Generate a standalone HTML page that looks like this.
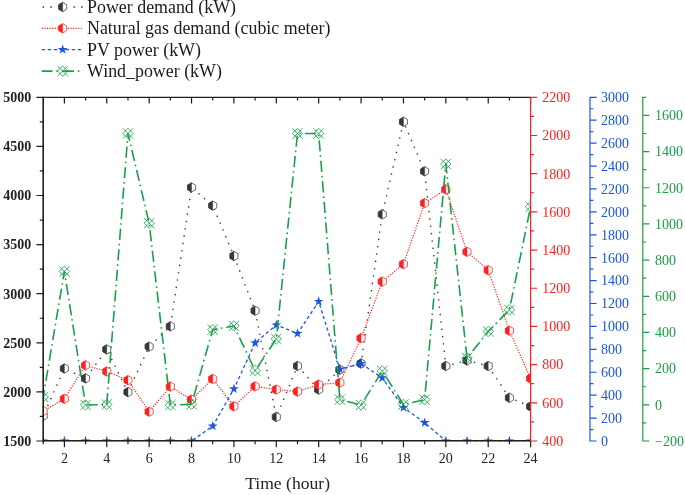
<!DOCTYPE html>
<html><head><meta charset="utf-8"><title>Demand and generation profiles</title>
<style>html,body{margin:0;padding:0;background:#fff}svg{display:block}text{font-family:"Liberation Serif",serif}svg{will-change:transform}</style></head><body>
<svg width="685" height="495" viewBox="0 0 685 495">
<defs><clipPath id="pc"><rect x="42.9" y="97.3" width="488.0" height="344.0"/></clipPath></defs>
<g clip-path="url(#pc)">
<path d="M43.20,416.00 L64.39,368.50 L85.58,378.40 L106.77,349.40 L127.97,392.10 L149.16,346.60 L170.35,326.30 L191.54,187.40 L212.73,205.60 L233.92,256.00 L255.11,310.70 L276.30,417.00 L297.50,366.00 L318.69,389.60 L339.88,369.70 L361.07,363.50 L382.26,214.30 L403.45,121.80 L424.64,171.30 L445.83,366.00 L467.03,360.50 L488.22,366.00 L509.41,397.80 L530.60,406.50" fill="none" stroke="#383838" stroke-width="1.4" stroke-dasharray="1.4 6.0" stroke-dashoffset="-3.434952451150245" stroke-linejoin="round"/>
<path d="M43.20,411.35 L47.23,413.68 L47.23,418.32 L43.20,420.65 L39.17,418.32 L39.17,413.68Z" fill="#fff" stroke="#383838" stroke-width="0.75"/><path d="M43.20,411.35 L43.20,420.65 L39.17,418.32 L39.17,413.68 Z" fill="#383838" stroke="#383838" stroke-width="0.4"/><path d="M64.39,363.85 L68.42,366.18 L68.42,370.82 L64.39,373.15 L60.36,370.82 L60.36,366.18Z" fill="#fff" stroke="#383838" stroke-width="0.75"/><path d="M64.39,363.85 L64.39,373.15 L60.36,370.82 L60.36,366.18 Z" fill="#383838" stroke="#383838" stroke-width="0.4"/><path d="M85.58,373.75 L89.61,376.07 L89.61,380.72 L85.58,383.05 L81.56,380.72 L81.56,376.07Z" fill="#fff" stroke="#383838" stroke-width="0.75"/><path d="M85.58,373.75 L85.58,383.05 L81.56,380.72 L81.56,376.07 Z" fill="#383838" stroke="#383838" stroke-width="0.4"/><path d="M106.77,344.75 L110.80,347.07 L110.80,351.72 L106.77,354.05 L102.75,351.72 L102.75,347.07Z" fill="#fff" stroke="#383838" stroke-width="0.75"/><path d="M106.77,344.75 L106.77,354.05 L102.75,351.72 L102.75,347.07 Z" fill="#383838" stroke="#383838" stroke-width="0.4"/><path d="M127.97,387.45 L131.99,389.78 L131.99,394.43 L127.97,396.75 L123.94,394.43 L123.94,389.78Z" fill="#fff" stroke="#383838" stroke-width="0.75"/><path d="M127.97,387.45 L127.97,396.75 L123.94,394.43 L123.94,389.78 Z" fill="#383838" stroke="#383838" stroke-width="0.4"/><path d="M149.16,341.95 L153.18,344.28 L153.18,348.93 L149.16,351.25 L145.13,348.93 L145.13,344.28Z" fill="#fff" stroke="#383838" stroke-width="0.75"/><path d="M149.16,341.95 L149.16,351.25 L145.13,348.93 L145.13,344.28 Z" fill="#383838" stroke="#383838" stroke-width="0.4"/><path d="M170.35,321.65 L174.37,323.98 L174.37,328.62 L170.35,330.95 L166.32,328.62 L166.32,323.98Z" fill="#fff" stroke="#383838" stroke-width="0.75"/><path d="M170.35,321.65 L170.35,330.95 L166.32,328.62 L166.32,323.98 Z" fill="#383838" stroke="#383838" stroke-width="0.4"/><path d="M191.54,182.75 L195.57,185.08 L195.57,189.72 L191.54,192.05 L187.51,189.72 L187.51,185.08Z" fill="#fff" stroke="#383838" stroke-width="0.75"/><path d="M191.54,182.75 L191.54,192.05 L187.51,189.72 L187.51,185.08 Z" fill="#383838" stroke="#383838" stroke-width="0.4"/><path d="M212.73,200.95 L216.76,203.28 L216.76,207.92 L212.73,210.25 L208.70,207.92 L208.70,203.28Z" fill="#fff" stroke="#383838" stroke-width="0.75"/><path d="M212.73,200.95 L212.73,210.25 L208.70,207.92 L208.70,203.28 Z" fill="#383838" stroke="#383838" stroke-width="0.4"/><path d="M233.92,251.35 L237.95,253.68 L237.95,258.32 L233.92,260.65 L229.89,258.32 L229.89,253.68Z" fill="#fff" stroke="#383838" stroke-width="0.75"/><path d="M233.92,251.35 L233.92,260.65 L229.89,258.32 L229.89,253.68 Z" fill="#383838" stroke="#383838" stroke-width="0.4"/><path d="M255.11,306.05 L259.14,308.38 L259.14,313.02 L255.11,315.35 L251.09,313.02 L251.09,308.38Z" fill="#fff" stroke="#383838" stroke-width="0.75"/><path d="M255.11,306.05 L255.11,315.35 L251.09,313.02 L251.09,308.38 Z" fill="#383838" stroke="#383838" stroke-width="0.4"/><path d="M276.30,412.35 L280.33,414.68 L280.33,419.32 L276.30,421.65 L272.28,419.32 L272.28,414.68Z" fill="#fff" stroke="#383838" stroke-width="0.75"/><path d="M276.30,412.35 L276.30,421.65 L272.28,419.32 L272.28,414.68 Z" fill="#383838" stroke="#383838" stroke-width="0.4"/><path d="M297.50,361.35 L301.52,363.68 L301.52,368.32 L297.50,370.65 L293.47,368.32 L293.47,363.68Z" fill="#fff" stroke="#383838" stroke-width="0.75"/><path d="M297.50,361.35 L297.50,370.65 L293.47,368.32 L293.47,363.68 Z" fill="#383838" stroke="#383838" stroke-width="0.4"/><path d="M318.69,384.95 L322.71,387.28 L322.71,391.93 L318.69,394.25 L314.66,391.93 L314.66,387.28Z" fill="#fff" stroke="#383838" stroke-width="0.75"/><path d="M318.69,384.95 L318.69,394.25 L314.66,391.93 L314.66,387.28 Z" fill="#383838" stroke="#383838" stroke-width="0.4"/><path d="M339.88,365.05 L343.91,367.38 L343.91,372.02 L339.88,374.35 L335.85,372.02 L335.85,367.38Z" fill="#fff" stroke="#383838" stroke-width="0.75"/><path d="M339.88,365.05 L339.88,374.35 L335.85,372.02 L335.85,367.38 Z" fill="#383838" stroke="#383838" stroke-width="0.4"/><path d="M361.07,358.85 L365.10,361.18 L365.10,365.82 L361.07,368.15 L357.04,365.82 L357.04,361.18Z" fill="#fff" stroke="#383838" stroke-width="0.75"/><path d="M361.07,358.85 L361.07,368.15 L357.04,365.82 L357.04,361.18 Z" fill="#383838" stroke="#383838" stroke-width="0.4"/><path d="M382.26,209.65 L386.29,211.98 L386.29,216.62 L382.26,218.95 L378.23,216.62 L378.23,211.98Z" fill="#fff" stroke="#383838" stroke-width="0.75"/><path d="M382.26,209.65 L382.26,218.95 L378.23,216.62 L378.23,211.98 Z" fill="#383838" stroke="#383838" stroke-width="0.4"/><path d="M403.45,117.15 L407.48,119.47 L407.48,124.12 L403.45,126.45 L399.43,124.12 L399.43,119.47Z" fill="#fff" stroke="#383838" stroke-width="0.75"/><path d="M403.45,117.15 L403.45,126.45 L399.43,124.12 L399.43,119.47 Z" fill="#383838" stroke="#383838" stroke-width="0.4"/><path d="M424.64,166.65 L428.67,168.98 L428.67,173.62 L424.64,175.95 L420.62,173.62 L420.62,168.98Z" fill="#fff" stroke="#383838" stroke-width="0.75"/><path d="M424.64,166.65 L424.64,175.95 L420.62,173.62 L420.62,168.98 Z" fill="#383838" stroke="#383838" stroke-width="0.4"/><path d="M445.83,361.35 L449.86,363.68 L449.86,368.32 L445.83,370.65 L441.81,368.32 L441.81,363.68Z" fill="#fff" stroke="#383838" stroke-width="0.75"/><path d="M445.83,361.35 L445.83,370.65 L441.81,368.32 L441.81,363.68 Z" fill="#383838" stroke="#383838" stroke-width="0.4"/><path d="M467.03,355.85 L471.05,358.18 L471.05,362.82 L467.03,365.15 L463.00,362.82 L463.00,358.18Z" fill="#fff" stroke="#383838" stroke-width="0.75"/><path d="M467.03,355.85 L467.03,365.15 L463.00,362.82 L463.00,358.18 Z" fill="#383838" stroke="#383838" stroke-width="0.4"/><path d="M488.22,361.35 L492.24,363.68 L492.24,368.32 L488.22,370.65 L484.19,368.32 L484.19,363.68Z" fill="#fff" stroke="#383838" stroke-width="0.75"/><path d="M488.22,361.35 L488.22,370.65 L484.19,368.32 L484.19,363.68 Z" fill="#383838" stroke="#383838" stroke-width="0.4"/><path d="M509.41,393.15 L513.44,395.48 L513.44,400.12 L509.41,402.45 L505.38,400.12 L505.38,395.48Z" fill="#fff" stroke="#383838" stroke-width="0.75"/><path d="M509.41,393.15 L509.41,402.45 L505.38,400.12 L505.38,395.48 Z" fill="#383838" stroke="#383838" stroke-width="0.4"/><path d="M530.60,401.85 L534.63,404.18 L534.63,408.82 L530.60,411.15 L526.57,408.82 L526.57,404.18Z" fill="#fff" stroke="#383838" stroke-width="0.75"/><path d="M530.60,401.85 L530.60,411.15 L526.57,408.82 L526.57,404.18 Z" fill="#383838" stroke="#383838" stroke-width="0.4"/>
<path d="M43.20,411.00 L64.39,398.80 L85.58,365.30 L106.77,371.50 L127.97,380.20 L149.16,411.70 L170.35,386.60 L191.54,399.60 L212.73,378.90 L233.92,406.30 L255.11,386.40 L276.30,389.60 L297.50,391.60 L318.69,384.60 L339.88,382.70 L361.07,338.20 L382.26,281.60 L403.45,264.20 L424.64,203.10 L445.83,189.40 L467.03,251.80 L488.22,270.20 L509.41,330.70 L530.60,378.40" fill="none" stroke="#ff2020" stroke-width="1.2" stroke-dasharray="1.2 1.4" stroke-dashoffset="0" stroke-linejoin="round"/>
<path d="M43.20,406.35 L47.23,408.68 L47.23,413.32 L43.20,415.65 L39.17,413.32 L39.17,408.68Z" fill="#fff" stroke="#ff2020" stroke-width="0.75"/><path d="M43.20,406.35 L43.20,415.65 L39.17,413.32 L39.17,408.68 Z" fill="#ff2020" stroke="#ff2020" stroke-width="0.4"/><path d="M64.39,394.15 L68.42,396.48 L68.42,401.12 L64.39,403.45 L60.36,401.12 L60.36,396.48Z" fill="#fff" stroke="#ff2020" stroke-width="0.75"/><path d="M64.39,394.15 L64.39,403.45 L60.36,401.12 L60.36,396.48 Z" fill="#ff2020" stroke="#ff2020" stroke-width="0.4"/><path d="M85.58,360.65 L89.61,362.98 L89.61,367.62 L85.58,369.95 L81.56,367.62 L81.56,362.98Z" fill="#fff" stroke="#ff2020" stroke-width="0.75"/><path d="M85.58,360.65 L85.58,369.95 L81.56,367.62 L81.56,362.98 Z" fill="#ff2020" stroke="#ff2020" stroke-width="0.4"/><path d="M106.77,366.85 L110.80,369.18 L110.80,373.82 L106.77,376.15 L102.75,373.82 L102.75,369.18Z" fill="#fff" stroke="#ff2020" stroke-width="0.75"/><path d="M106.77,366.85 L106.77,376.15 L102.75,373.82 L102.75,369.18 Z" fill="#ff2020" stroke="#ff2020" stroke-width="0.4"/><path d="M127.97,375.55 L131.99,377.88 L131.99,382.52 L127.97,384.85 L123.94,382.52 L123.94,377.88Z" fill="#fff" stroke="#ff2020" stroke-width="0.75"/><path d="M127.97,375.55 L127.97,384.85 L123.94,382.52 L123.94,377.88 Z" fill="#ff2020" stroke="#ff2020" stroke-width="0.4"/><path d="M149.16,407.05 L153.18,409.38 L153.18,414.02 L149.16,416.35 L145.13,414.02 L145.13,409.38Z" fill="#fff" stroke="#ff2020" stroke-width="0.75"/><path d="M149.16,407.05 L149.16,416.35 L145.13,414.02 L145.13,409.38 Z" fill="#ff2020" stroke="#ff2020" stroke-width="0.4"/><path d="M170.35,381.95 L174.37,384.28 L174.37,388.93 L170.35,391.25 L166.32,388.93 L166.32,384.28Z" fill="#fff" stroke="#ff2020" stroke-width="0.75"/><path d="M170.35,381.95 L170.35,391.25 L166.32,388.93 L166.32,384.28 Z" fill="#ff2020" stroke="#ff2020" stroke-width="0.4"/><path d="M191.54,394.95 L195.57,397.28 L195.57,401.93 L191.54,404.25 L187.51,401.93 L187.51,397.28Z" fill="#fff" stroke="#ff2020" stroke-width="0.75"/><path d="M191.54,394.95 L191.54,404.25 L187.51,401.93 L187.51,397.28 Z" fill="#ff2020" stroke="#ff2020" stroke-width="0.4"/><path d="M212.73,374.25 L216.76,376.57 L216.76,381.22 L212.73,383.55 L208.70,381.22 L208.70,376.57Z" fill="#fff" stroke="#ff2020" stroke-width="0.75"/><path d="M212.73,374.25 L212.73,383.55 L208.70,381.22 L208.70,376.57 Z" fill="#ff2020" stroke="#ff2020" stroke-width="0.4"/><path d="M233.92,401.65 L237.95,403.98 L237.95,408.62 L233.92,410.95 L229.89,408.62 L229.89,403.98Z" fill="#fff" stroke="#ff2020" stroke-width="0.75"/><path d="M233.92,401.65 L233.92,410.95 L229.89,408.62 L229.89,403.98 Z" fill="#ff2020" stroke="#ff2020" stroke-width="0.4"/><path d="M255.11,381.75 L259.14,384.07 L259.14,388.72 L255.11,391.05 L251.09,388.72 L251.09,384.07Z" fill="#fff" stroke="#ff2020" stroke-width="0.75"/><path d="M255.11,381.75 L255.11,391.05 L251.09,388.72 L251.09,384.07 Z" fill="#ff2020" stroke="#ff2020" stroke-width="0.4"/><path d="M276.30,384.95 L280.33,387.28 L280.33,391.93 L276.30,394.25 L272.28,391.93 L272.28,387.28Z" fill="#fff" stroke="#ff2020" stroke-width="0.75"/><path d="M276.30,384.95 L276.30,394.25 L272.28,391.93 L272.28,387.28 Z" fill="#ff2020" stroke="#ff2020" stroke-width="0.4"/><path d="M297.50,386.95 L301.52,389.28 L301.52,393.93 L297.50,396.25 L293.47,393.93 L293.47,389.28Z" fill="#fff" stroke="#ff2020" stroke-width="0.75"/><path d="M297.50,386.95 L297.50,396.25 L293.47,393.93 L293.47,389.28 Z" fill="#ff2020" stroke="#ff2020" stroke-width="0.4"/><path d="M318.69,379.95 L322.71,382.28 L322.71,386.93 L318.69,389.25 L314.66,386.93 L314.66,382.28Z" fill="#fff" stroke="#ff2020" stroke-width="0.75"/><path d="M318.69,379.95 L318.69,389.25 L314.66,386.93 L314.66,382.28 Z" fill="#ff2020" stroke="#ff2020" stroke-width="0.4"/><path d="M339.88,378.05 L343.91,380.38 L343.91,385.02 L339.88,387.35 L335.85,385.02 L335.85,380.38Z" fill="#fff" stroke="#ff2020" stroke-width="0.75"/><path d="M339.88,378.05 L339.88,387.35 L335.85,385.02 L335.85,380.38 Z" fill="#ff2020" stroke="#ff2020" stroke-width="0.4"/><path d="M361.07,333.55 L365.10,335.88 L365.10,340.52 L361.07,342.85 L357.04,340.52 L357.04,335.88Z" fill="#fff" stroke="#ff2020" stroke-width="0.75"/><path d="M361.07,333.55 L361.07,342.85 L357.04,340.52 L357.04,335.88 Z" fill="#ff2020" stroke="#ff2020" stroke-width="0.4"/><path d="M382.26,276.95 L386.29,279.28 L386.29,283.93 L382.26,286.25 L378.23,283.93 L378.23,279.28Z" fill="#fff" stroke="#ff2020" stroke-width="0.75"/><path d="M382.26,276.95 L382.26,286.25 L378.23,283.93 L378.23,279.28 Z" fill="#ff2020" stroke="#ff2020" stroke-width="0.4"/><path d="M403.45,259.55 L407.48,261.88 L407.48,266.52 L403.45,268.85 L399.43,266.52 L399.43,261.88Z" fill="#fff" stroke="#ff2020" stroke-width="0.75"/><path d="M403.45,259.55 L403.45,268.85 L399.43,266.52 L399.43,261.88 Z" fill="#ff2020" stroke="#ff2020" stroke-width="0.4"/><path d="M424.64,198.45 L428.67,200.78 L428.67,205.42 L424.64,207.75 L420.62,205.42 L420.62,200.78Z" fill="#fff" stroke="#ff2020" stroke-width="0.75"/><path d="M424.64,198.45 L424.64,207.75 L420.62,205.42 L420.62,200.78 Z" fill="#ff2020" stroke="#ff2020" stroke-width="0.4"/><path d="M445.83,184.75 L449.86,187.08 L449.86,191.72 L445.83,194.05 L441.81,191.72 L441.81,187.08Z" fill="#fff" stroke="#ff2020" stroke-width="0.75"/><path d="M445.83,184.75 L445.83,194.05 L441.81,191.72 L441.81,187.08 Z" fill="#ff2020" stroke="#ff2020" stroke-width="0.4"/><path d="M467.03,247.15 L471.05,249.48 L471.05,254.12 L467.03,256.45 L463.00,254.12 L463.00,249.48Z" fill="#fff" stroke="#ff2020" stroke-width="0.75"/><path d="M467.03,247.15 L467.03,256.45 L463.00,254.12 L463.00,249.48 Z" fill="#ff2020" stroke="#ff2020" stroke-width="0.4"/><path d="M488.22,265.55 L492.24,267.88 L492.24,272.52 L488.22,274.85 L484.19,272.52 L484.19,267.88Z" fill="#fff" stroke="#ff2020" stroke-width="0.75"/><path d="M488.22,265.55 L488.22,274.85 L484.19,272.52 L484.19,267.88 Z" fill="#ff2020" stroke="#ff2020" stroke-width="0.4"/><path d="M509.41,326.05 L513.44,328.38 L513.44,333.02 L509.41,335.35 L505.38,333.02 L505.38,328.38Z" fill="#fff" stroke="#ff2020" stroke-width="0.75"/><path d="M509.41,326.05 L509.41,335.35 L505.38,333.02 L505.38,328.38 Z" fill="#ff2020" stroke="#ff2020" stroke-width="0.4"/><path d="M530.60,373.75 L534.63,376.07 L534.63,380.72 L530.60,383.05 L526.57,380.72 L526.57,376.07Z" fill="#fff" stroke="#ff2020" stroke-width="0.75"/><path d="M530.60,373.75 L530.60,383.05 L526.57,380.72 L526.57,376.07 Z" fill="#ff2020" stroke="#ff2020" stroke-width="0.4"/>
<path d="M43.20,441.00 L64.39,441.00 L85.58,441.00 L106.77,441.00 L127.97,441.00 L149.16,441.00 L170.35,441.00 L191.54,441.00 L212.73,426.10 L233.92,388.90 L255.11,342.90 L276.30,325.00 L297.50,333.60 L318.69,301.50 L339.88,369.20 L361.07,363.50 L382.26,377.90 L403.45,407.50 L424.64,422.70 L445.83,441.00 L467.03,441.00 L488.22,441.00 L509.41,441.00 L530.60,441.00" fill="none" stroke="#1a55e3" stroke-width="1.3" stroke-dasharray="3.3 2.7" stroke-dashoffset="0" stroke-linejoin="round"/>
<path d="M43.20,435.80 L44.38,439.38 L48.15,439.39 L45.10,441.62 L46.26,445.21 L43.20,443.00 L40.14,445.21 L41.30,441.62 L38.25,439.39 L42.02,439.38Z" fill="#1a55e3"/><path d="M64.39,435.80 L65.57,439.38 L69.34,439.39 L66.29,441.62 L67.45,445.21 L64.39,443.00 L61.33,445.21 L62.49,441.62 L59.45,439.39 L63.22,439.38Z" fill="#1a55e3"/><path d="M85.58,435.80 L86.76,439.38 L90.53,439.39 L87.48,441.62 L88.64,445.21 L85.58,443.00 L82.53,445.21 L83.68,441.62 L80.64,439.39 L84.41,439.38Z" fill="#1a55e3"/><path d="M106.77,435.80 L107.95,439.38 L111.72,439.39 L108.68,441.62 L109.83,445.21 L106.77,443.00 L103.72,445.21 L104.87,441.62 L101.83,439.39 L105.60,439.38Z" fill="#1a55e3"/><path d="M127.97,435.80 L129.14,439.38 L132.91,439.39 L129.87,441.62 L131.02,445.21 L127.97,443.00 L124.91,445.21 L126.06,441.62 L123.02,439.39 L126.79,439.38Z" fill="#1a55e3"/><path d="M149.16,435.80 L150.33,439.38 L154.10,439.39 L151.06,441.62 L152.21,445.21 L149.16,443.00 L146.10,445.21 L147.25,441.62 L144.21,439.39 L147.98,439.38Z" fill="#1a55e3"/><path d="M170.35,435.80 L171.52,439.38 L175.29,439.39 L172.25,441.62 L173.40,445.21 L170.35,443.00 L167.29,445.21 L168.45,441.62 L165.40,439.39 L169.17,439.38Z" fill="#1a55e3"/><path d="M191.54,435.80 L192.71,439.38 L196.48,439.39 L193.44,441.62 L194.60,445.21 L191.54,443.00 L188.48,445.21 L189.64,441.62 L186.59,439.39 L190.36,439.38Z" fill="#1a55e3"/><path d="M212.73,420.90 L213.91,424.48 L217.68,424.49 L214.63,426.72 L215.79,430.31 L212.73,428.10 L209.67,430.31 L210.83,426.72 L207.78,424.49 L211.55,424.48Z" fill="#1a55e3"/><path d="M233.92,383.70 L235.10,387.28 L238.87,387.29 L235.82,389.52 L236.98,393.11 L233.92,390.90 L230.87,393.11 L232.02,389.52 L228.98,387.29 L232.75,387.28Z" fill="#1a55e3"/><path d="M255.11,337.70 L256.29,341.28 L260.06,341.29 L257.02,343.52 L258.17,347.11 L255.11,344.90 L252.06,347.11 L253.21,343.52 L250.17,341.29 L253.94,341.28Z" fill="#1a55e3"/><path d="M276.30,319.80 L277.48,323.38 L281.25,323.39 L278.21,325.62 L279.36,329.21 L276.30,327.00 L273.25,329.21 L274.40,325.62 L271.36,323.39 L275.13,323.38Z" fill="#1a55e3"/><path d="M297.50,328.40 L298.67,331.98 L302.44,331.99 L299.40,334.22 L300.55,337.81 L297.50,335.60 L294.44,337.81 L295.59,334.22 L292.55,331.99 L296.32,331.98Z" fill="#1a55e3"/><path d="M318.69,296.30 L319.86,299.88 L323.63,299.89 L320.59,302.12 L321.74,305.71 L318.69,303.50 L315.63,305.71 L316.78,302.12 L313.74,299.89 L317.51,299.88Z" fill="#1a55e3"/><path d="M339.88,364.00 L341.05,367.58 L344.82,367.59 L341.78,369.82 L342.93,373.41 L339.88,371.20 L336.82,373.41 L337.98,369.82 L334.93,367.59 L338.70,367.58Z" fill="#1a55e3"/><path d="M361.07,358.30 L362.25,361.88 L366.02,361.89 L362.97,364.12 L364.13,367.71 L361.07,365.50 L358.01,367.71 L359.17,364.12 L356.12,361.89 L359.89,361.88Z" fill="#1a55e3"/><path d="M382.26,372.70 L383.44,376.28 L387.21,376.29 L384.16,378.52 L385.32,382.11 L382.26,379.90 L379.20,382.11 L380.36,378.52 L377.32,376.29 L381.09,376.28Z" fill="#1a55e3"/><path d="M403.45,402.30 L404.63,405.88 L408.40,405.89 L405.35,408.12 L406.51,411.71 L403.45,409.50 L400.40,411.71 L401.55,408.12 L398.51,405.89 L402.28,405.88Z" fill="#1a55e3"/><path d="M424.64,417.50 L425.82,421.08 L429.59,421.09 L426.55,423.32 L427.70,426.91 L424.64,424.70 L421.59,426.91 L422.74,423.32 L419.70,421.09 L423.47,421.08Z" fill="#1a55e3"/><path d="M445.83,435.80 L447.01,439.38 L450.78,439.39 L447.74,441.62 L448.89,445.21 L445.83,443.00 L442.78,445.21 L443.93,441.62 L440.89,439.39 L444.66,439.38Z" fill="#1a55e3"/><path d="M467.03,435.80 L468.20,439.38 L471.97,439.39 L468.93,441.62 L470.08,445.21 L467.03,443.00 L463.97,445.21 L465.12,441.62 L462.08,439.39 L465.85,439.38Z" fill="#1a55e3"/><path d="M488.22,435.80 L489.39,439.38 L493.16,439.39 L490.12,441.62 L491.27,445.21 L488.22,443.00 L485.16,445.21 L486.32,441.62 L483.27,439.39 L487.04,439.38Z" fill="#1a55e3"/><path d="M509.41,435.80 L510.58,439.38 L514.35,439.39 L511.31,441.62 L512.47,445.21 L509.41,443.00 L506.35,445.21 L507.51,441.62 L504.46,439.39 L508.23,439.38Z" fill="#1a55e3"/><path d="M530.60,435.80 L531.78,439.38 L535.55,439.39 L532.50,441.62 L533.66,445.21 L530.60,443.00 L527.54,445.21 L528.70,441.62 L525.65,439.39 L529.42,439.38Z" fill="#1a55e3"/>
<path d="M43.20,397.00 L64.39,271.40 L85.58,405.00 L106.77,404.50 L127.97,133.50 L149.16,223.20 L170.35,405.00 L191.54,404.30 L212.73,329.60 L233.92,326.00 L255.11,370.50 L276.30,339.00 L297.50,133.50 L318.69,133.50 L339.88,399.60 L361.07,405.00 L382.26,371.00 L403.45,404.50 L424.64,399.60 L445.83,164.10 L467.03,358.00 L488.22,331.50 L509.41,309.90 L530.60,206.80" fill="none" stroke="#18a048" stroke-width="1.6" stroke-dasharray="11.2 3.9 1.6 3.9" stroke-dashoffset="-16.4" stroke-linejoin="round"/>
<path d="M38.00,391.80 L48.40,402.20 M38.00,402.20 L48.40,391.80 M43.20,391.80 L48.40,397.00 L43.20,402.20 L38.00,397.00 Z" fill="none" stroke="#18a048" stroke-width="0.9" stroke-opacity="0.9"/><path d="M59.19,266.20 L69.59,276.60 M59.19,276.60 L69.59,266.20 M64.39,266.20 L69.59,271.40 L64.39,276.60 L59.19,271.40 Z" fill="none" stroke="#18a048" stroke-width="0.9" stroke-opacity="0.9"/><path d="M80.38,399.80 L90.78,410.20 M80.38,410.20 L90.78,399.80 M85.58,399.80 L90.78,405.00 L85.58,410.20 L80.38,405.00 Z" fill="none" stroke="#18a048" stroke-width="0.9" stroke-opacity="0.9"/><path d="M101.57,399.30 L111.97,409.70 M101.57,409.70 L111.97,399.30 M106.77,399.30 L111.97,404.50 L106.77,409.70 L101.57,404.50 Z" fill="none" stroke="#18a048" stroke-width="0.9" stroke-opacity="0.9"/><path d="M122.77,128.30 L133.17,138.70 M122.77,138.70 L133.17,128.30 M127.97,128.30 L133.17,133.50 L127.97,138.70 L122.77,133.50 Z" fill="none" stroke="#18a048" stroke-width="0.9" stroke-opacity="0.9"/><path d="M143.96,218.00 L154.36,228.40 M143.96,228.40 L154.36,218.00 M149.16,218.00 L154.36,223.20 L149.16,228.40 L143.96,223.20 Z" fill="none" stroke="#18a048" stroke-width="0.9" stroke-opacity="0.9"/><path d="M165.15,399.80 L175.55,410.20 M165.15,410.20 L175.55,399.80 M170.35,399.80 L175.55,405.00 L170.35,410.20 L165.15,405.00 Z" fill="none" stroke="#18a048" stroke-width="0.9" stroke-opacity="0.9"/><path d="M186.34,399.10 L196.74,409.50 M186.34,409.50 L196.74,399.10 M191.54,399.10 L196.74,404.30 L191.54,409.50 L186.34,404.30 Z" fill="none" stroke="#18a048" stroke-width="0.9" stroke-opacity="0.9"/><path d="M207.53,324.40 L217.93,334.80 M207.53,334.80 L217.93,324.40 M212.73,324.40 L217.93,329.60 L212.73,334.80 L207.53,329.60 Z" fill="none" stroke="#18a048" stroke-width="0.9" stroke-opacity="0.9"/><path d="M228.72,320.80 L239.12,331.20 M228.72,331.20 L239.12,320.80 M233.92,320.80 L239.12,326.00 L233.92,331.20 L228.72,326.00 Z" fill="none" stroke="#18a048" stroke-width="0.9" stroke-opacity="0.9"/><path d="M249.91,365.30 L260.31,375.70 M249.91,375.70 L260.31,365.30 M255.11,365.30 L260.31,370.50 L255.11,375.70 L249.91,370.50 Z" fill="none" stroke="#18a048" stroke-width="0.9" stroke-opacity="0.9"/><path d="M271.10,333.80 L281.50,344.20 M271.10,344.20 L281.50,333.80 M276.30,333.80 L281.50,339.00 L276.30,344.20 L271.10,339.00 Z" fill="none" stroke="#18a048" stroke-width="0.9" stroke-opacity="0.9"/><path d="M292.30,128.30 L302.70,138.70 M292.30,138.70 L302.70,128.30 M297.50,128.30 L302.70,133.50 L297.50,138.70 L292.30,133.50 Z" fill="none" stroke="#18a048" stroke-width="0.9" stroke-opacity="0.9"/><path d="M313.49,128.30 L323.89,138.70 M313.49,138.70 L323.89,128.30 M318.69,128.30 L323.89,133.50 L318.69,138.70 L313.49,133.50 Z" fill="none" stroke="#18a048" stroke-width="0.9" stroke-opacity="0.9"/><path d="M334.68,394.40 L345.08,404.80 M334.68,404.80 L345.08,394.40 M339.88,394.40 L345.08,399.60 L339.88,404.80 L334.68,399.60 Z" fill="none" stroke="#18a048" stroke-width="0.9" stroke-opacity="0.9"/><path d="M355.87,399.80 L366.27,410.20 M355.87,410.20 L366.27,399.80 M361.07,399.80 L366.27,405.00 L361.07,410.20 L355.87,405.00 Z" fill="none" stroke="#18a048" stroke-width="0.9" stroke-opacity="0.9"/><path d="M377.06,365.80 L387.46,376.20 M377.06,376.20 L387.46,365.80 M382.26,365.80 L387.46,371.00 L382.26,376.20 L377.06,371.00 Z" fill="none" stroke="#18a048" stroke-width="0.9" stroke-opacity="0.9"/><path d="M398.25,399.30 L408.65,409.70 M398.25,409.70 L408.65,399.30 M403.45,399.30 L408.65,404.50 L403.45,409.70 L398.25,404.50 Z" fill="none" stroke="#18a048" stroke-width="0.9" stroke-opacity="0.9"/><path d="M419.44,394.40 L429.84,404.80 M419.44,404.80 L429.84,394.40 M424.64,394.40 L429.84,399.60 L424.64,404.80 L419.44,399.60 Z" fill="none" stroke="#18a048" stroke-width="0.9" stroke-opacity="0.9"/><path d="M440.63,158.90 L451.03,169.30 M440.63,169.30 L451.03,158.90 M445.83,158.90 L451.03,164.10 L445.83,169.30 L440.63,164.10 Z" fill="none" stroke="#18a048" stroke-width="0.9" stroke-opacity="0.9"/><path d="M461.83,352.80 L472.23,363.20 M461.83,363.20 L472.23,352.80 M467.03,352.80 L472.23,358.00 L467.03,363.20 L461.83,358.00 Z" fill="none" stroke="#18a048" stroke-width="0.9" stroke-opacity="0.9"/><path d="M483.02,326.30 L493.42,336.70 M483.02,336.70 L493.42,326.30 M488.22,326.30 L493.42,331.50 L488.22,336.70 L483.02,331.50 Z" fill="none" stroke="#18a048" stroke-width="0.9" stroke-opacity="0.9"/><path d="M504.21,304.70 L514.61,315.10 M504.21,315.10 L514.61,304.70 M509.41,304.70 L514.61,309.90 L509.41,315.10 L504.21,309.90 Z" fill="none" stroke="#18a048" stroke-width="0.9" stroke-opacity="0.9"/><path d="M525.40,201.60 L535.80,212.00 M525.40,212.00 L535.80,201.60 M530.60,201.60 L535.80,206.80 L530.60,212.00 L525.40,206.80 Z" fill="none" stroke="#18a048" stroke-width="0.9" stroke-opacity="0.9"/>
</g>
<g stroke="#1f1f1f" stroke-width="1.6" fill="none">
<path d="M43.2,96.7 V441.6 M43.2,440.8 H530.6"/><path d="M43.2,97.3 H530.6" stroke-width="1.2"/>
</g>
<g stroke="#1f1f1f" stroke-width="1.2" fill="none">
<path d="M43.2,441.00 H36.4 M43.2,416.45 H39.8 M43.2,391.90 H36.4 M43.2,367.35 H39.8 M43.2,342.80 H36.4 M43.2,318.25 H39.8 M43.2,293.70 H36.4 M43.2,269.15 H39.8 M43.2,244.60 H36.4 M43.2,220.05 H39.8 M43.2,195.50 H36.4 M43.2,170.95 H39.8 M43.2,146.40 H36.4 M43.2,121.85 H39.8 M43.2,97.30 H36.4 M64.39,441.0 V447.2 M64.39,97.3 V103.5 M85.58,441.0 V444.2 M85.58,97.3 V100.5 M106.77,441.0 V447.2 M106.77,97.3 V103.5 M127.97,441.0 V444.2 M127.97,97.3 V100.5 M149.16,441.0 V447.2 M149.16,97.3 V103.5 M170.35,441.0 V444.2 M170.35,97.3 V100.5 M191.54,441.0 V447.2 M191.54,97.3 V103.5 M212.73,441.0 V444.2 M212.73,97.3 V100.5 M233.92,441.0 V447.2 M233.92,97.3 V103.5 M255.11,441.0 V444.2 M255.11,97.3 V100.5 M276.30,441.0 V447.2 M276.30,97.3 V103.5 M297.50,441.0 V444.2 M297.50,97.3 V100.5 M318.69,441.0 V447.2 M318.69,97.3 V103.5 M339.88,441.0 V444.2 M339.88,97.3 V100.5 M361.07,441.0 V447.2 M361.07,97.3 V103.5 M382.26,441.0 V444.2 M382.26,97.3 V100.5 M403.45,441.0 V447.2 M403.45,97.3 V103.5 M424.64,441.0 V444.2 M424.64,97.3 V100.5 M445.83,441.0 V447.2 M445.83,97.3 V103.5 M467.03,441.0 V444.2 M467.03,97.3 V100.5 M488.22,441.0 V447.2 M488.22,97.3 V103.5 M509.41,441.0 V444.2 M509.41,97.3 V100.5 M530.60,441.0 V447.2 M530.60,97.3 V103.5 M43.20,441.0 V444.2 "/>
</g>
<g font-size="14" font-weight="bold" fill="#222" text-anchor="end">
<text x="31.3" y="445.8">1500</text>
<text x="31.3" y="396.7">2000</text>
<text x="31.3" y="347.6">2500</text>
<text x="31.3" y="298.5">3000</text>
<text x="31.3" y="249.4">3500</text>
<text x="31.3" y="200.3">4000</text>
<text x="31.3" y="151.2">4500</text>
<text x="31.3" y="102.1">5000</text>
</g>
<g font-size="14" fill="#222" text-anchor="middle">
<text x="64.4" y="462.7">2</text>
<text x="106.8" y="462.7">4</text>
<text x="149.2" y="462.7">6</text>
<text x="191.5" y="462.7">8</text>
<text x="233.9" y="462.7">10</text>
<text x="276.3" y="462.7">12</text>
<text x="318.7" y="462.7">14</text>
<text x="361.1" y="462.7">16</text>
<text x="403.5" y="462.7">18</text>
<text x="445.8" y="462.7">20</text>
<text x="488.2" y="462.7">22</text>
<text x="530.6" y="462.7">24</text>
</g>
<text x="287.6" y="489.4" font-size="17.6" fill="#222" text-anchor="middle">Time (hour)</text>
<g stroke="#ff2020" stroke-width="1.2" fill="none"><path d="M530.6,96.7 V441.6 M530.6,441.00 H537.2 M530.6,421.91 H534.0 M530.6,402.81 H537.2 M530.6,383.72 H534.0 M530.6,364.62 H537.2 M530.6,345.53 H534.0 M530.6,326.43 H537.2 M530.6,307.34 H534.0 M530.6,288.24 H537.2 M530.6,269.15 H534.0 M530.6,250.06 H537.2 M530.6,230.96 H534.0 M530.6,211.87 H537.2 M530.6,192.77 H534.0 M530.6,173.68 H537.2 M530.6,154.58 H534.0 M530.6,135.49 H537.2 M530.6,116.39 H534.0 M530.6,97.30 H537.2 "/></g><g font-size="14" fill="#ff2020"><text x="542.3" y="445.8">400</text><text x="542.3" y="407.6">600</text><text x="542.3" y="369.4">800</text><text x="542.3" y="331.2">1000</text><text x="542.3" y="293.0">1200</text><text x="542.3" y="254.9">1400</text><text x="542.3" y="216.7">1600</text><text x="542.3" y="178.5">1800</text><text x="542.3" y="140.3">2000</text><text x="542.3" y="102.1">2200</text></g>
<g stroke="#1a55e3" stroke-width="1.2" fill="none"><path d="M590.0,96.7 V441.6 M590.0,441.00 H596.6 M590.0,429.54 H593.4 M590.0,418.09 H596.6 M590.0,406.63 H593.4 M590.0,395.17 H596.6 M590.0,383.72 H593.4 M590.0,372.26 H596.6 M590.0,360.80 H593.4 M590.0,349.35 H596.6 M590.0,337.89 H593.4 M590.0,326.43 H596.6 M590.0,314.98 H593.4 M590.0,303.52 H596.6 M590.0,292.06 H593.4 M590.0,280.61 H596.6 M590.0,269.15 H593.4 M590.0,257.69 H596.6 M590.0,246.24 H593.4 M590.0,234.78 H596.6 M590.0,223.32 H593.4 M590.0,211.87 H596.6 M590.0,200.41 H593.4 M590.0,188.95 H596.6 M590.0,177.50 H593.4 M590.0,166.04 H596.6 M590.0,154.58 H593.4 M590.0,143.13 H596.6 M590.0,131.67 H593.4 M590.0,120.21 H596.6 M590.0,108.76 H593.4 M590.0,97.30 H596.6 "/></g><g font-size="14" fill="#1a55e3"><text x="601.0" y="445.8">0</text><text x="601.0" y="422.9">200</text><text x="601.0" y="400.0">400</text><text x="601.0" y="377.1">600</text><text x="601.0" y="354.1">800</text><text x="601.0" y="331.2">1000</text><text x="601.0" y="308.3">1200</text><text x="601.0" y="285.4">1400</text><text x="601.0" y="262.5">1600</text><text x="601.0" y="239.6">1800</text><text x="601.0" y="216.7">2000</text><text x="601.0" y="193.8">2200</text><text x="601.0" y="170.8">2400</text><text x="601.0" y="147.9">2600</text><text x="601.0" y="125.0">2800</text><text x="601.0" y="102.1">3000</text></g>
<g stroke="#18a048" stroke-width="1.2" fill="none"><path d="M642.8,96.7 V441.6 M642.8,441.00 H649.4 M642.8,422.91 H646.2 M642.8,404.82 H649.4 M642.8,386.73 H646.2 M642.8,368.64 H649.4 M642.8,350.55 H646.2 M642.8,332.46 H649.4 M642.8,314.37 H646.2 M642.8,296.28 H649.4 M642.8,278.19 H646.2 M642.8,260.11 H649.4 M642.8,242.02 H646.2 M642.8,223.93 H649.4 M642.8,205.84 H646.2 M642.8,187.75 H649.4 M642.8,169.66 H646.2 M642.8,151.57 H649.4 M642.8,133.48 H646.2 M642.8,115.39 H649.4 M642.8,97.30 H646.2 "/></g><g font-size="14" fill="#18a048"><text x="655.0" y="445.8">−200</text><text x="655.0" y="409.6">0</text><text x="655.0" y="373.4">200</text><text x="655.0" y="337.3">400</text><text x="655.0" y="301.1">600</text><text x="655.0" y="264.9">800</text><text x="655.0" y="228.7">1000</text><text x="655.0" y="192.5">1200</text><text x="655.0" y="156.4">1400</text><text x="655.0" y="120.2">1600</text></g>
<path d="M42.6,7.0 H82.8" stroke="#383838" stroke-width="1.5" stroke-dasharray="1.5 6.2" fill="none"/>
<rect x="56" y="4.0" width="13.4" height="6" fill="#fff"/>
<path d="M62.70,2.35 L66.73,4.67 L66.73,9.32 L62.70,11.65 L58.67,9.32 L58.67,4.67Z" fill="#fff" stroke="#383838" stroke-width="0.75"/><path d="M62.70,2.35 L62.70,11.65 L58.67,9.32 L58.67,4.67 Z" fill="#383838" stroke="#383838" stroke-width="0.4"/>
<path d="M41.8,28.3 H81.8" stroke="#ff2020" stroke-width="1.2" stroke-dasharray="1.2 1.4" fill="none"/>
<path d="M62.70,23.65 L66.73,25.98 L66.73,30.62 L62.70,32.95 L58.67,30.62 L58.67,25.98Z" fill="#fff" stroke="#ff2020" stroke-width="0.75"/><path d="M62.70,23.65 L62.70,32.95 L58.67,30.62 L58.67,25.98 Z" fill="#ff2020" stroke="#ff2020" stroke-width="0.4"/>
<path d="M41.8,49.6 H81.8" stroke="#1a55e3" stroke-width="1.3" stroke-dasharray="3.3 2.7" fill="none"/>
<path d="M62.70,44.40 L63.88,47.98 L67.65,47.99 L64.60,50.22 L65.76,53.81 L62.70,51.60 L59.64,53.81 L60.80,50.22 L57.75,47.99 L61.52,47.98Z" fill="#1a55e3"/>
<path d="M41.8,71.1 H62.7" stroke="#18a048" stroke-width="1.6" stroke-dasharray="10.7 3.9 1.6 3.9" fill="none"/><path d="M62.7,71.1 H81.8" stroke="#18a048" stroke-width="1.6" stroke-dasharray="11.2 3.9 1.6 3.9" fill="none"/>
<path d="M57.50,65.90 L67.90,76.30 M57.50,76.30 L67.90,65.90 M62.70,65.90 L67.90,71.10 L62.70,76.30 L57.50,71.10 Z" fill="none" stroke="#18a048" stroke-width="0.9" stroke-opacity="0.9"/>
<g font-size="17.9" fill="#1a1a1a">
<text x="87.0" y="13.0">Power demand (kW)</text>
<text x="87.0" y="34.3">Natural gas demand (cubic meter)</text>
<text x="87.0" y="55.6">PV power (kW)</text>
<text x="87.0" y="76.8">Wind_power (kW)</text>
</g>
</svg></body></html>
